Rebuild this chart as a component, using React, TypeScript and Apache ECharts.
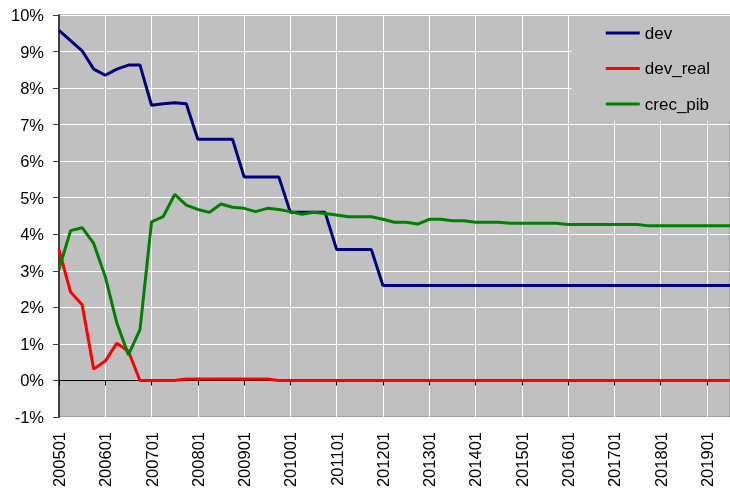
import React, { useEffect, useRef } from "react";
import * as echarts from "echarts";

const years = [2005, 2006, 2007, 2008, 2009, 2010, 2011, 2012, 2013, 2014, 2015, 2016, 2017, 2018, 2019];
const quarters = ["01", "02", "03", "04"];
const categories: string[] = [];
years.forEach((y) => quarters.forEach((q) => categories.push(`${y}${q}`)));
categories.splice(59); // 200501 .. 201903

const dev = [
  9.58, 9.3, 9.02, 8.52, 8.35, 8.52, 8.63, 8.63, 7.53, 7.57, 7.6, 7.57,
  6.6, 6.6, 6.6, 6.6, 5.57, 5.57, 5.57, 5.57, 4.6, 4.6, 4.6, 4.6,
  3.58, 3.58, 3.58, 3.58, 2.6, 2.6, 2.6, 2.6, 2.6, 2.6, 2.6, 2.6,
  2.6, 2.6, 2.6, 2.6, 2.6, 2.6, 2.6, 2.6, 2.6, 2.6, 2.6, 2.6,
  2.6, 2.6, 2.6, 2.6, 2.6, 2.6, 2.6, 2.6, 2.6, 2.6, 2.6,
];

const devReal = [
  3.57, 2.42, 2.07, 0.31, 0.53, 1.02, 0.8, 0, 0, 0, 0, 0.04,
  0.04, 0.04, 0.04, 0.04, 0.04, 0.04, 0.04, 0, 0, 0, 0, 0,
  0, 0, 0, 0, 0, 0, 0, 0, 0, 0, 0, 0,
  0, 0, 0, 0, 0, 0, 0, 0, 0, 0, 0, 0,
  0, 0, 0, 0, 0, 0, 0, 0, 0, 0, 0,
];

const crecPib = [
  3.04, 4.1, 4.18, 3.75, 2.84, 1.57, 0.7, 1.39, 4.34, 4.48, 5.09, 4.8,
  4.68, 4.6, 4.83, 4.74, 4.71, 4.62, 4.71, 4.68, 4.62, 4.55, 4.6, 4.57,
  4.53, 4.48, 4.48, 4.48, 4.41, 4.33, 4.33, 4.28, 4.41, 4.41, 4.37, 4.37,
  4.33, 4.33, 4.33, 4.3, 4.3, 4.3, 4.3, 4.3, 4.27, 4.27, 4.27, 4.27,
  4.27, 4.27, 4.27, 4.23, 4.23, 4.23, 4.23, 4.23, 4.23, 4.23, 4.23,
];

const seriesNames = ["dev", "dev_real", "crec_pib"];
const seriesColors = ["#000080", "#FF0000", "#008000"];

const FONT = "'Liberation Sans', Arial, sans-serif";

export default function App() {
  const ref = useRef<HTMLDivElement>(null);

  useEffect(() => {
    if (!ref.current) return;
    const chart = echarts.init(ref.current, undefined, { renderer: "svg" });
    const values = [dev, devReal, crecPib];
    chart.setOption({
      animation: false,
      textStyle: { fontFamily: FONT },
      grid: {
        left: 59,
        right: 0,
        top: 15,
        bottom: 78,
        show: true,
        backgroundColor: "#C0C0C0",
        borderColor: "#808080",
        borderWidth: 1,
      },
      legend: {
        orient: "vertical",
        right: 0,
        top: 16,
        backgroundColor: "#C0C0C0",
        padding: [8, 20, 8, 34],
        itemWidth: 34,
        itemHeight: 3,
        itemGap: 17.5,
        icon: "rect",
        selectedMode: false,
        data: seriesNames,
        textStyle: { fontFamily: FONT, fontSize: 17, lineHeight: 18, color: "#000" },
      },
      xAxis: [
        {
          type: "category",
          data: categories,
          boundaryGap: false,
          position: "bottom",
          axisLine: { show: true, onZero: true, lineStyle: { color: "#000", width: 1 } },
          axisTick: { show: true, interval: 3, length: 5, lineStyle: { color: "#000" } },
          axisLabel: { show: false },
          splitLine: { show: false },
        },
        {
          type: "category",
          data: categories,
          boundaryGap: false,
          position: "bottom",
          axisLine: { show: false, onZero: false },
          axisTick: { show: false },
          axisLabel: {
            show: true,
            interval: 3,
            rotate: 90,
            margin: 15,
            fontSize: 16.5,
            fontFamily: FONT,
            color: "#000",
          },
          splitLine: { show: true, interval: 3, lineStyle: { color: "#FFFFFF", width: 1 } },
        },
      ],
      yAxis: {
        type: "value",
        min: -1,
        max: 10,
        interval: 1,
        axisLine: { show: true, lineStyle: { color: "#404040", width: 2 } },
        axisTick: { show: true, length: 6, lineStyle: { color: "#404040" } },
        axisLabel: {
          formatter: "{value}%",
          margin: 15,
          fontSize: 16.5,
          fontFamily: FONT,
          color: "#000",
        },
        splitLine: { show: true, lineStyle: { color: "#FFFFFF", width: 1 } },
      },
      series: seriesNames.map((name, i) => ({
        name,
        type: "line",
        xAxisIndex: 0,
        data: values[i],
        symbol: "none",
        lineStyle: { color: seriesColors[i], width: 3 },
        itemStyle: { color: seriesColors[i] },
      })),
    });
    return () => chart.dispose();
  }, []);

  return (
    <div
      ref={ref}
      style={{ position: "fixed", left: 0, top: 0, width: 730, height: 495 }}
    />
  );
}
